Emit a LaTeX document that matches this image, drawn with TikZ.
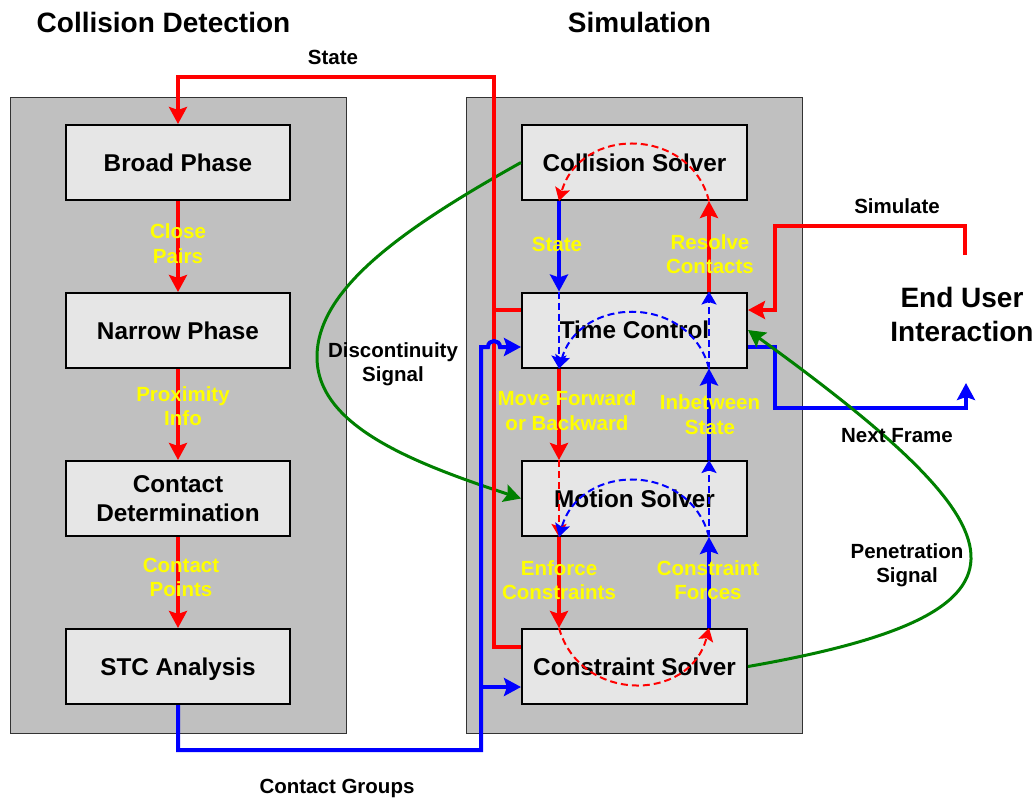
\documentclass[tikz,border=0pt]{standalone}
\usepackage{fontspec}
\setmainfont{Liberation Sans}
\usetikzlibrary{arrows.meta,calc}
\definecolor{panelgray}{RGB}{192,192,192}
\definecolor{boxgray}{RGB}{230,230,230}
\definecolor{dgreen}{RGB}{0,128,0}
\definecolor{lblyellow}{RGB}{255,255,0}
\begin{document}
\begin{tikzpicture}[x=1pt,y=-1pt,
  panel/.style={draw=black!80, line width=1pt, fill=panelgray, minimum width=336pt, minimum height=636pt, inner sep=0pt},
  box/.style={draw=black, line width=2pt, fill=boxgray, minimum width=224pt, minimum height=75pt, inner sep=0pt, align=center, font=\fontsize{24.3}{29}\selectfont\bfseries, text depth=0pt},
  rbox/.style={box, minimum width=225pt},
  title/.style={font=\fontsize{28}{34}\selectfont\bfseries, align=center, text depth=0pt, inner sep=0pt},
  blbl/.style={font=\fontsize{20.5}{24.5}\selectfont\bfseries, align=center, text depth=0pt, inner sep=0pt},
  ylbl/.style={blbl, text=lblyellow},
  redline/.style={draw=red, line width=4pt},
  blueline/.style={draw=blue, line width=4pt},
  greenline/.style={draw=dgreen, line width=3pt},
  dashline/.style={line width=2pt, dash pattern=on 7pt off 4pt},
  arr/.style={-{Stealth[length=17pt,width=18pt,inset=3pt]}},
  darr/.style={-{Stealth[length=13pt,width=15pt,inset=2.5pt]}},
]
\useasboundingbox (0,0) rectangle (1034,798);
\fill[white] (0,0) rectangle (1034,798);

% titles
\node[title] (t1) at (163.5,22) {Collision Detection};
\node[title] (t2) at (639.5,22) {Simulation};

% panels
\node[panel] (lp) at (178,415) {};
\node[panel] (rp) at (634,415) {};

% left boxes
\node[box] (bp) at (178,162.5) {Broad Phase};
\node[box] (np) at (178,330.5) {Narrow Phase};
\node[box] (cd) at (178,498.5) {Contact\\Determination};
\node[box] (stc) at (178,666.5) {STC Analysis};

% right boxes
\node[rbox] (cls) at (634.5,162.5) {Collision Solver};
\node[rbox] (tc) at (634.5,330) {Time Control};
\node[rbox] (ms) at (634.5,498.5) {Motion Solver};
\node[rbox] (cns) at (634.5,666.5) {Constraint Solver};

\coordinate (lx) at (559,0);
\coordinate (rx) at (709,0);
\coordinate (simEnd) at (965,255);
\coordinate (nfEnd) at (966,383);
\coordinate (bl) at (481,750);
\coordinate (bj) at (481,687);

% left column arrows
\draw[redline,arr] (bp.south) -- (np.north);
\draw[redline,arr] (np.south) -- (cd.north);
\draw[redline,arr] (cd.south) -- (stc.north);

% discontinuity signal (green)
\draw[greenline,arr] (cls.west) .. controls (400,230) and (317,290) .. (317,357)
   .. controls (317,425) and (410,462) .. (ms.west);

% state feedback (red)
\draw[redline,arr] ([yshift=19.5pt]cns.west) -| (494,77) -| (bp.north);
\draw[redline] ([yshift=20pt]tc.west) -- (494,310);

% contact groups (blue)
\draw[blueline,arr] (stc.south) |- (bl) -- (481,347) -- (488,347)
   .. controls (488,339) and (500,339) .. (500,347) -- ([yshift=-17pt]tc.west);
\draw[blueline,arr] (bj) -- ([yshift=-20.5pt]cns.west);

% simulate / next frame
\draw[redline,arr] (simEnd) |- (775,226) |- ([yshift=20pt]tc.east);
\draw[blueline,arr] ([yshift=-17pt]tc.east) -| (775,408) -| (nfEnd);

% inner simulation arrows
\draw[blueline,arr] (cls.south -| lx) -- (tc.north -| lx);
\draw[draw=blue,dashline,darr] (tc.north -| lx) -- (tc.south -| lx);
\draw[redline,arr] (tc.north -| rx) -- (cls.south -| rx);
\draw[draw=blue,dashline,darr] (tc.south -| rx) -- (tc.north -| rx);
\draw[redline,arr] (tc.south -| lx) -- (ms.north -| lx);
\draw[draw=red,dashline,darr] (ms.north -| lx) -- (ms.south -| lx);
\draw[blueline,arr] (ms.north -| rx) -- (tc.south -| rx);
\draw[draw=blue,dashline,darr] (ms.south -| rx) -- (ms.north -| rx);
\draw[redline,arr] (ms.south -| lx) -- (cns.north -| lx);
\draw[blueline,arr] (cns.north -| rx) -- (ms.south -| rx);

% dashed arcs
\draw[draw=red,dashline,darr] (cls.south -| rx) .. controls +(-19,-75) and +(21,-75) .. (cls.south -| lx);
\draw[draw=blue,dashline,darr] (tc.south -| rx) .. controls +(-19,-74) and +(21,-74) .. (tc.south -| lx);
\draw[draw=blue,dashline,darr] (ms.south -| rx) .. controls +(-19,-75) and +(21,-75) .. (ms.south -| lx);
\draw[draw=red,dashline,darr] (cns.north -| lx) .. controls +(21,75) and +(-19,75) .. (cns.north -| rx);

% penetration signal (green)
\draw[greenline,arr] (cns.east) .. controls (1060,612) and (1027,532) .. (tc.east);

% black labels
\node[blbl] (lstate) at (333,57) {State};
\node[blbl] (ldisc) at (393,362) {Discontinuity\\Signal};
\node[blbl] (lsim) at (897,206) {Simulate};
\node[blbl] (lnf) at (897,435) {Next Frame};
\node[blbl] (lpen) at (907,563) {Penetration\\Signal};
\node[blbl] (lcg) at (337,786) {Contact Groups};
\node[title] (eui) at (962,314) {End User\\Interaction};

% yellow labels
\node[ylbl] (y1) at (178,243.5) {Close\\Pairs};
\node[ylbl] (y2) at (183,406) {Proximity\\Info};
\node[ylbl] (y3) at (181,577.5) {Contact\\Points};
\node[ylbl] (y4) at (557,244) {State};
\node[ylbl] (y5) at (710,254) {Resolve\\Contacts};
\node[ylbl] (y6) at (567,410.5) {Move Forward\\or Backward};
\node[ylbl] (y7) at (710,414.5) {Inbetween\\State};
\node[ylbl] (y8) at (559,580) {Enforce\\Constraints};
\node[ylbl] (y9) at (708,580) {Constraint\\Forces};
\end{tikzpicture}
\end{document}
